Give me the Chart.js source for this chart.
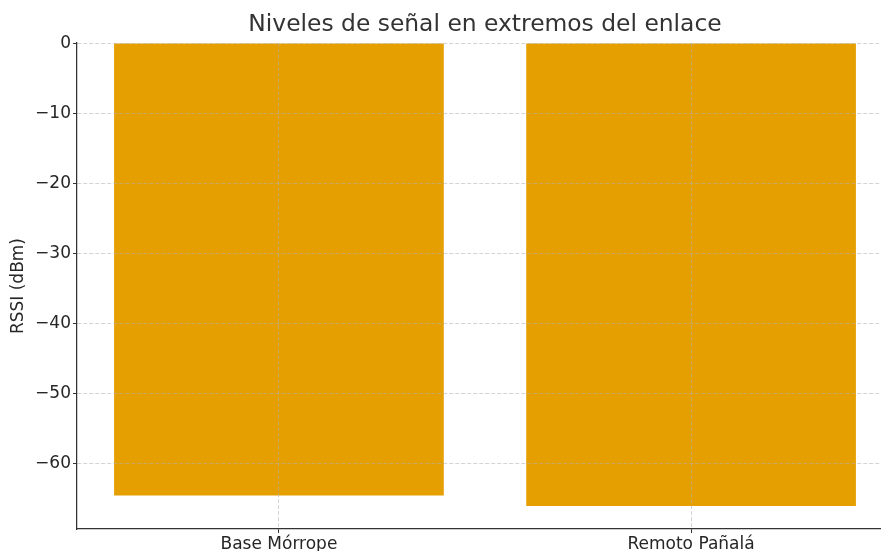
<!DOCTYPE html>
<html>
<head>
<meta charset="utf-8">
<script src="https://cdn.jsdelivr.net/npm/chart.js@4/dist/chart.umd.min.js"></script>
<style>
  html, body { margin: 0; padding: 0; background: #fff; overflow: hidden; }
  #wrap { width: 881px; height: 551px; overflow: hidden; }
</style>
</head>
<body>
<div id="wrap"><canvas id="barChart" width="900" height="551"></canvas></div>
<script>
const labels = ['Base Mórrope', 'Remoto Pañalá'];
const rssi = [-64.6, -66.1];
const yTicks = [0, -10, -20, -30, -40, -50, -60];

const gridColor = 'rgba(176, 176, 176, 0.55)';
const textColor = '#262626';
const fontFamily = '"DejaVu Sans", sans-serif';

let ctx = document.getElementById('barChart').getContext('2d');
let chart = new Chart(ctx, {
  type: 'bar',
  data: {
    datasets: [{
      data: rssi.map((v, i) => ({ x: i, y: v })),
      backgroundColor: '#E69F00',
      borderWidth: 0,
      categoryPercentage: 1,
      barPercentage: 0.8
    }]
  },
  options: {
    responsive: false,
    animation: false,
    layout: { padding: { left: 0, right: 7, top: 0, bottom: 0 } },
    plugins: {
      legend: { display: false },
      tooltip: { enabled: false },
      title: {
        display: true,
        fullSize: false,
        text: 'Niveles de señal en extremos del enlace',
        color: '#333333',
        font: { family: fontFamily, size: 23.4, weight: 'normal', lineHeight: 1.2 },
        padding: { top: 11, bottom: 4 }
      }
    },
    scales: {
      x: {
        type: 'linear',
        min: -0.49,
        max: 1.49,
        offset: false,
        z: 1,
        afterBuildTicks: s => { s.ticks = labels.map((l, i) => ({ value: i })); },
        afterFit: s => { s.height = 22; },
        ticks: {
          color: textColor,
          font: { family: fontFamily, size: 17 },
          padding: 1,
          maxRotation: 0,
          callback: v => labels[v]
        },
        grid: {
          z: 1,
          offset: false,
          color: gridColor,
          tickColor: '#333',
          tickLength: 4,
          tickBorderDash: [],
          lineWidth: 1
        },
        border: { display: true, z: 2, color: '#333', width: 1.25, dash: [4, 2] }
      },
      y: {
        min: -69.4,
        max: 0,
        z: 1,
        afterBuildTicks: s => { s.ticks = yTicks.map(v => ({ value: v })); },
        afterFit: s => { s.width = 77; },
        ticks: {
          color: textColor,
          font: { family: fontFamily, size: 17 },
          padding: 2,
          callback: v => v < 0 ? '\u2212' + Math.abs(v) : String(v)
        },
        grid: {
          z: 1,
          color: gridColor,
          tickColor: '#333',
          tickLength: 4,
          tickBorderDash: [],
          lineWidth: 1
        },
        border: { display: true, z: 2, color: '#333', width: 1.25, dash: [4, 2] },
        title: {
          display: true,
          text: 'RSSI (dBm)',
          color: textColor,
          font: { family: fontFamily, size: 17 },
          padding: { top: 8, bottom: 4 }
        }
      }
    }
  }
});
</script>
</body>
</html>
